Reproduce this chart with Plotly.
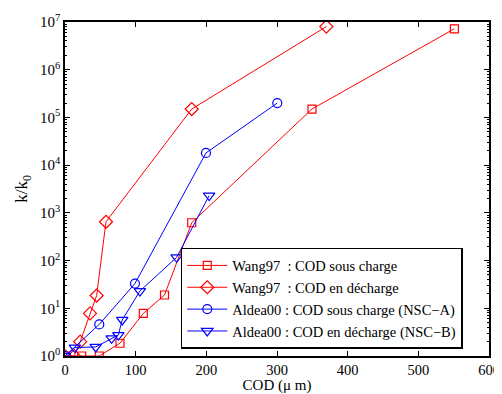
import plotly.graph_objects as go

# Data
wang_sous_x = [0, 23.6, 48.5, 77.8, 110.8, 140.8, 179.3, 349.5, 551]
wang_sous_y = [1, 1.0, 1.0, 1.85, 7.8, 19, 620, 1.5e5, 7.2e6]

wang_dech_x = [0, 13, 21.5, 35.4, 44.8, 58, 179.3, 369.8]
wang_dech_y = [1, 1.0, 2.0, 7.8, 18.5, 650, 1.5e5, 8.0e6]

aldea_sous_x = [0, 48.5, 99, 199.5, 300.4]
aldea_sous_y = [1, 4.6, 33, 1.8e4, 2.0e5]

aldea_dech_x = [0, 14, 43.5, 66, 75.5, 81, 106, 158, 204]
aldea_dech_y = [1, 1.5, 1.55, 2.35, 2.75, 5.7, 23, 117, 2300]

names = [
    "Wang97\u00a0 : COD sous charge",
    "Wang97\u00a0 : COD en décharge",
    "Aldea00 : COD sous charge (NSC\u2212A)",
    "Aldea00 : COD en décharge (NSC\u2212B)",
]

y_tickvals = [10 ** i for i in range(8)]
y_ticktext = ["10<sup>%d</sup>" % i for i in range(8)]
y_minor = [m * 10 ** i for i in range(7) for m in range(2, 10)]
x_tickvals = [0, 100, 200, 300, 400, 500, 600]

RED = "#ff0000"
BLUE = "#0000ff"
FONT = "Liberation Serif"

fig = go.Figure()
series = [
    (wang_sous_x, wang_sous_y, names[0], RED, "square-open", 8),
    (wang_dech_x, wang_dech_y, names[1], RED, "diamond-open", 10),
    (aldea_sous_x, aldea_sous_y, names[2], BLUE, "circle-open", 9),
    (aldea_dech_x, aldea_dech_y, names[3], BLUE, "triangle-down-open", 10),
]
for xs, ys, nm, col, sym, sz in series:
    fig.add_trace(go.Scatter(
        x=xs, y=ys, name=nm, mode="lines+markers",
        line=dict(color=col, width=1),
        marker=dict(symbol=sym, size=sz, color=col, line=dict(color=col, width=1.2)),
    ))

# page body adds an 8px offset, so the figure is 8px smaller and margins shifted
fig.update_layout(
    width=494, height=386,
    margin=dict(l=57, r=13, t=14, b=38),
    paper_bgcolor="white", plot_bgcolor="white",
    font=dict(family=FONT, size=15, color="black"),
    showlegend=True,
    legend=dict(
        x=0.273, y=0.021, xanchor="left", yanchor="bottom",
        bgcolor="white", bordercolor="black", borderwidth=1.5,
        font=dict(family=FONT, size=14.5, color="black"),
        itemwidth=40, tracegroupgap=0,
    ),
)
fig.update_xaxes(
    range=[0, 600], tickmode="array", tickvals=x_tickvals,
    ticks="inside", ticklen=5, tickwidth=1, tickcolor="black",
    showline=True, linecolor="black", linewidth=1.5, mirror="ticks",
    showgrid=False, zeroline=False, automargin=False,
    title=dict(text="COD (\u03bc m)", font=dict(family=FONT, size=15), standoff=6),
    tickfont=dict(family=FONT, size=14.5),
)
fig.update_yaxes(
    type="log", range=[0, 7], tickmode="array",
    tickvals=y_tickvals, ticktext=y_ticktext,
    ticks="inside", ticklen=5, tickwidth=1, tickcolor="black",
    minor=dict(tickmode="array", tickvals=y_minor, ticks="inside", ticklen=2.5,
               tickwidth=1, tickcolor="black", showgrid=False),
    showline=True, linecolor="black", linewidth=1.5, mirror="ticks",
    showgrid=False, zeroline=False, automargin=False,
    title=dict(text="k/k<sub>0</sub>", font=dict(family=FONT, size=17), standoff=8),
    tickfont=dict(family=FONT, size=15),
)

fig.write_html("out.html")
